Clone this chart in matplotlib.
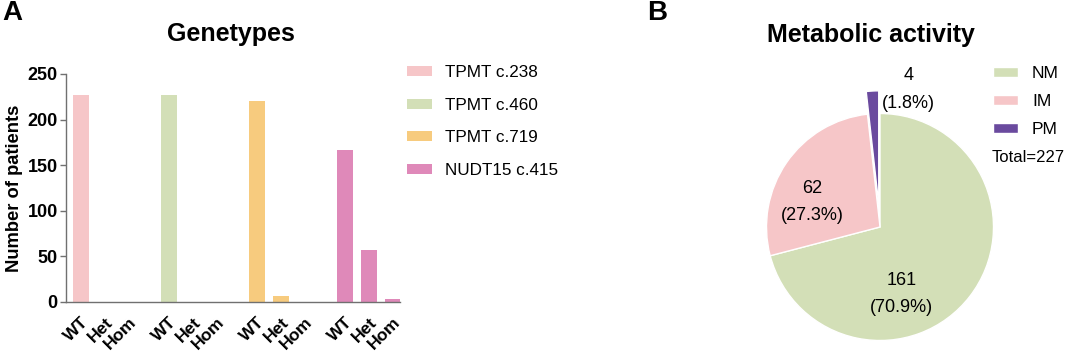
import numpy as np
import matplotlib
matplotlib.use("Agg")
from matplotlib import pyplot as plt
from matplotlib.patches import Patch
from matplotlib.transforms import ScaledTranslation

plt.rcParams['font.family'] = ['Liberation Sans', 'DejaVu Sans']

# panel A data
variants = ["TPMT c.238", "TPMT c.460", "TPMT c.719", "NUDT15 c.415"]
genotypes = ["WT", "Het", "Hom"]
counts = [
    [227, 0, 0],
    [227, 0, 0],
    [220, 7, 0],
    [167, 57, 3],
]
bar_colors = ["#F6C6C8", "#D3DFB7", "#F7CB7E", "#DF89B9"]

# panel B data
activity = ["NM", "IM", "PM"]
activity_n = [161, 62, 4]
pie_colors = ["#D3DFB7", "#F6C6C8", "#6A4A9E"]

W, H = 1065, 355
fig = plt.figure(figsize=(W / 100, H / 100), dpi=100)

def fx(px):
    return px / W

def fy(py):
    return 1 - py / H

# ---- panel A: bars ----
ax = fig.add_axes([fx(66), fy(302), fx(400) - fx(66), fy(74) - fy(302)])
group_step = 11 / 3
xs, labels = [], []
for g, (vals, col) in enumerate(zip(counts, bar_colors)):
    pos = g * group_step + np.arange(len(genotypes))
    ax.bar(pos, vals, width=0.67, color=col, edgecolor="none")
    xs.extend(pos)
    labels.extend(genotypes)

ax.set_xlim(-0.62, 13.3)
ax.set_ylim(0, 250)
ax.set_yticks(np.arange(0, 251, 50))
ax.set_xticks(xs)
ax.set_xticklabels(labels, rotation=45, ha="right", va="top",
                   rotation_mode="anchor", fontsize=12.5, fontweight="bold")
off = ScaledTranslation(5 / 100, 0, fig.dpi_scale_trans)
for lab in ax.get_xticklabels():
    lab.set_transform(lab.get_transform() + off)
ax.tick_params(axis="x", length=0, pad=9)
ax.tick_params(axis="y", length=4, width=1, color="#707070", pad=2,
               labelsize=13)
for lab in ax.get_yticklabels():
    lab.set_fontweight("bold")
for s in ["top", "right"]:
    ax.spines[s].set_visible(False)
for s in ["left", "bottom"]:
    ax.spines[s].set_color("#707070")
    ax.spines[s].set_linewidth(1)

fig.text(fx(15), fy(188), "Number of patients", rotation=90, ha="center",
         va="center", fontsize=13.2, fontweight="bold")
fig.text(fx(231), fy(34), "Genetypes", ha="center", va="center",
         fontsize=18, fontweight="bold")

handles = [Patch(facecolor=c, edgecolor="none") for c in bar_colors]
fig.legend(handles, variants, loc="upper left",
           bbox_to_anchor=(fx(407), fy(65)), frameon=False, fontsize=12.3,
           borderpad=0, borderaxespad=0, handlelength=1.45,
           handleheight=0.52, handletextpad=0.8, labelspacing=1.03)

# ---- panel B: pie ----
cx, cy, r = 880, 227, 113.5
lim = 1.3
pax = fig.add_axes([fx(cx - lim * r), fy(cy + lim * r),
                    fx(2 * lim * r), fy(cy - lim * r) - fy(cy + lim * r)])
wedges, _ = pax.pie(activity_n, colors=pie_colors, startangle=90,
                    counterclock=False, explode=[0, 0, 0.2],
                    wedgeprops=dict(edgecolor="white", linewidth=1))
pax.set_xlim(-lim, lim)
pax.set_ylim(-lim, lim)
pax.set_aspect("equal")

total = sum(activity_n)
label_pos = [(0.19, -0.59), (-0.60, 0.22), (0.25, 1.21)]
for n, (lx, ly) in zip(activity_n, label_pos):
    pax.text(lx, ly, f"{n}\n({n / total * 100:.1f}%)", ha="center",
             va="center", fontsize=13, linespacing=1.8)

fig.text(fx(871), fy(35), "Metabolic activity", ha="center", va="center",
         fontsize=18, fontweight="bold")
fig.legend(wedges, activity, loc="upper left",
           bbox_to_anchor=(fx(993), fy(66)), frameon=False, fontsize=12.5,
           borderpad=0, borderaxespad=0, handlelength=1.45,
           handleheight=0.52, handletextpad=0.8, labelspacing=0.75)
fig.text(fx(992), fy(157), f"Total={total}", ha="left", va="center",
         fontsize=12)

fig.text(fx(12), fy(13), "A", ha="center", va="center", fontsize=20,
         fontweight="bold")
fig.text(fx(657), fy(13), "B", ha="center", va="center", fontsize=20,
         fontweight="bold")

fig.savefig("out.png", dpi=100)
